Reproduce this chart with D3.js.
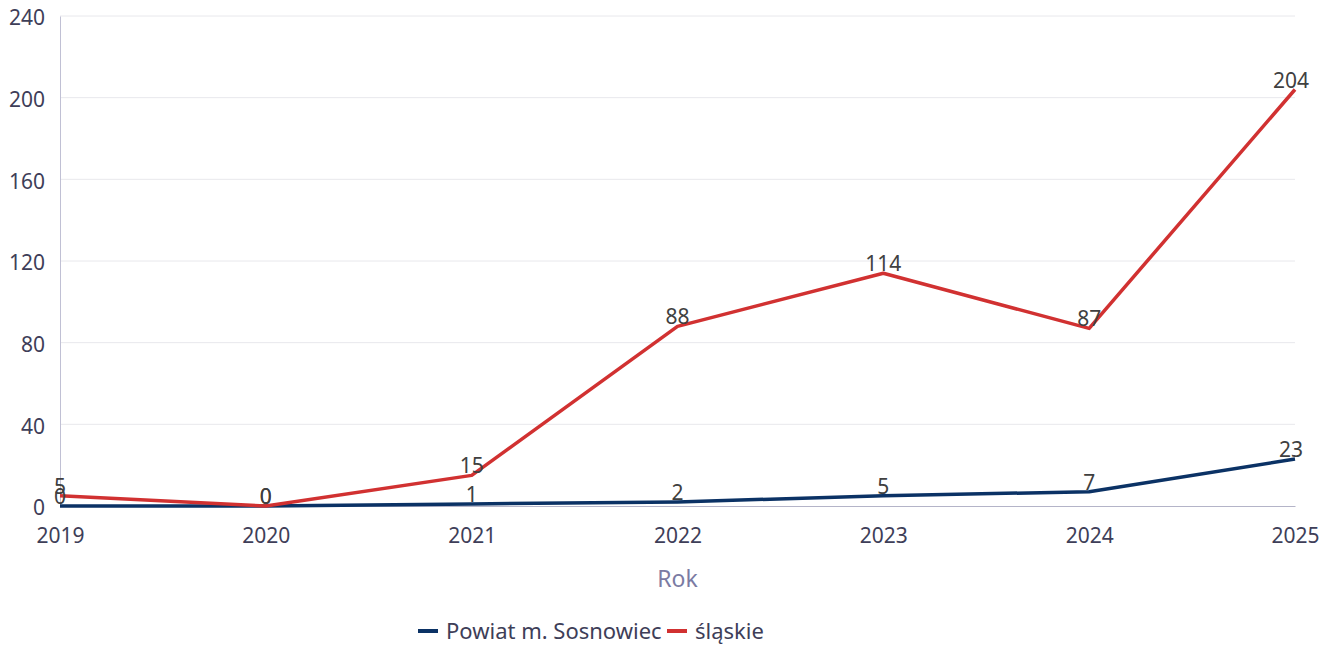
<!DOCTYPE html>
<html>
<head>
<meta charset="utf-8">
<script src="https://cdn.jsdelivr.net/npm/d3@7"></script>
<style>
  body { margin: 0; background: #fff; }
  svg, svg text { font-family: "Noto Sans", "Open Sans", sans-serif; }
  .grid line { stroke: #e8e8ec; }
  .tick text { fill: #3e3e58; font-size: 21px; }
  .label { fill: #404040; font-size: 21px; }
</style>
</head>
<body>
<svg width="1330" height="645"></svg>
<script>
const years = ["2019", "2020", "2021", "2022", "2023", "2024", "2025"];
const sosnowiec = [0, 0, 1, 2, 5, 7, 23];
const slaskie = [5, 0, 15, 88, 114, 87, 204];
const yTicks = [0, 40, 80, 120, 160, 200, 240];

const series = [
    { name: "Powiat m. Sosnowiec", values: sosnowiec, color: "#0b3265" },
    { name: "śląskie", values: slaskie, color: "#d13131" },
];

const svg = d3.select("svg");
const plotLeft = 60, plotRight = 1295, plotTop = 16, plotBottom = 506;

const x = d3.scalePoint().domain(years).range([plotLeft, plotRight]);
const y = d3.scaleLinear().domain([0, 240]).range([plotBottom, plotTop]);

// gridlines
svg.append("g")
    .attr("class", "grid")
    .selectAll("line")
    .data(yTicks.slice(1))
    .join("line")
    .attr("x1", plotLeft)
    .attr("x2", plotRight)
    .attr("y1", d => y(d))
    .attr("y2", d => y(d));

// y axis
const yAxis = svg.append("g")
    .attr("transform", `translate(${plotLeft},0)`)
    .call(d3.axisLeft(y).tickValues(yTicks).tickSize(0).tickPadding(15));
yAxis.select(".domain").attr("stroke", "#c0c0d4");
yAxis.selectAll(".tick text").attr("dy", "0.42em");

// x axis
const xAxis = svg.append("g")
    .attr("transform", `translate(0,${plotBottom})`)
    .call(d3.axisBottom(x).tickSize(0).tickPadding(22));
xAxis.select(".domain").attr("stroke", "#b4b4c8");

svg.append("text")
    .attr("x", (plotLeft + plotRight) / 2)
    .attr("y", 587)
    .attr("text-anchor", "middle")
    .attr("fill", "#7b7ba3")
    .style("font-size", "23px")
    .text("Rok");

const line = d3.line()
    .x((d, i) => x(years[i]))
    .y(d => y(d));

series.forEach(s => {
    svg.append("path")
        .datum(s.values)
        .attr("fill", "none")
        .attr("stroke", s.color)
        .attr("stroke-width", 3.5)
        .attr("stroke-linejoin", "round")
        .attr("d", line);
});

series.forEach(s => {
    svg.append("g")
        .selectAll("text")
        .data(s.values)
        .join("text")
        .attr("class", "label")
        .attr("x", (d, i) => x(years[i]) + (i === years.length - 1 ? -4 : 0))
        .attr("y", d => y(d) - 2)
        .attr("text-anchor", "middle")
        .text(d => d);
});

// legend
const legend = svg.append("g").attr("transform", "translate(0,631)");
const items = [
    { s: series[0], lx: 418 },
    { s: series[1], lx: 667 },
];
items.forEach(({ s, lx }) => {
    legend.append("line")
        .attr("x1", lx).attr("x2", lx + 20)
        .attr("y1", 0).attr("y2", 0)
        .attr("stroke", s.color)
        .attr("stroke-width", 4);
    legend.append("text")
        .attr("x", lx + 28)
        .attr("y", 0)
        .attr("dy", "0.35em")
        .attr("fill", "#3e3e58")
        .style("font-size", "22px")
        .text(s.name);
});
</script>
</body>
</html>
